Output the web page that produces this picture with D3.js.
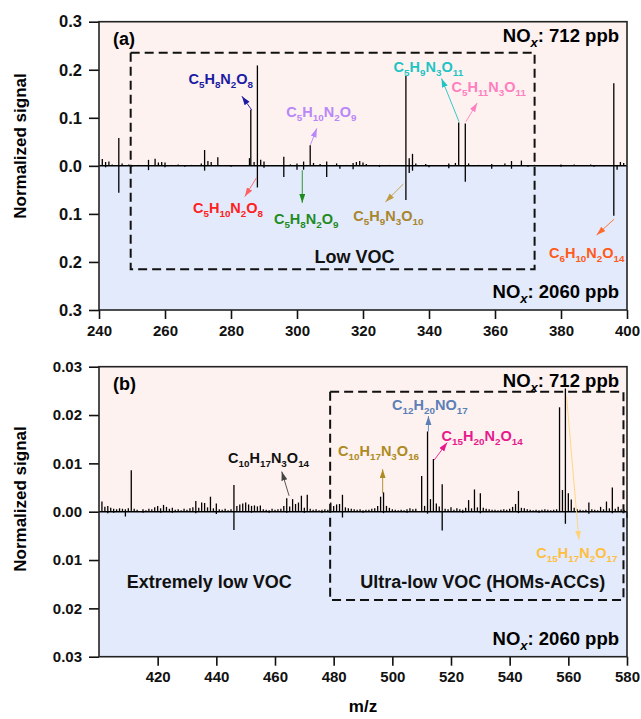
<!DOCTYPE html>
<html>
<head>
<meta charset="utf-8">
<script src="https://cdn.jsdelivr.net/npm/d3@7"></script>
<style>
  body { margin: 0; background: #fff; }
  text { font-family: "Liberation Sans", Arial, sans-serif; font-weight: bold; }
</style>
</head>
<body>
<svg id="vis" width="641" height="719"></svg>
<script>
// ---- data: [m/z, normalized signal] ----
var peaksA712 = [[241,.014],[242,.008],[243,.009],[244,.003],[246,.058],[247,.005],[249,.003],[252,.002],
  [255,.0125],[257,.0146],[258,.007],[259,.008],[260,.007],[262,.002],[264,.003],[268,.002],[271,.005],
  [272,.033],[273,.010],[274,.008],[276,.018],[280,.002],[283,.002],[285.6,.016],[286,.117],[287,.008],
  [288,.209],[289,.0125],[290,.009],[293,.002],[296,.019],[298,.003],[300,.005],[302,.009],[304,.043],
  [305,.006],[307,.004],[309,.009],[312,.005],[315,.002],[317,.006],[318,.008],[319,.010],[320,.007],
  [321,.004],[325,.002],[328,.002],[333,.187],[334,.016],[335,.025],[336,.005],[339,.004],[343,.002],
  [346,.005],[348,.006],[349,.090],[351,.088],[352,.005],[355,.002],[359,.004],[363,.005],[365,.010],
  [368,.011],[372,.002],[376,.002],[380,.003],[384,.003],[389,.003],[393,.002],[396,.172],[398,.008],[399,.006]];
var peaksA2060 = [[242,.003],[246,.056],[250,.002],[255,.009],[260,.003],[266,.002],[272,.010],[280,.002],
  [288,.045],[290,.004],[296,.023],[300,.008],[302,.008],[309,.023],[313,.006],[317,.007],[325,.002],
  [333,.071],[334,.015],[335,.010],[340,.003],[346,.005],[351,.033],[359,.006],[365,.006],[370,.002],
  [380,.002],[390,.002],[396,.104],[397,.008]];

var peaksB712 = [[401,.0021],[402,.0010],[403,.0012],[404,.0008],[405,.0006],[406,.0005],[407,.0007],[408,.0006],
  [409,.0005],[410,.0007],[411,.0086],[412,.0006],[413,.0004],[415,.0005],[416,.0003],[417,.0006],[418,.0005],
  [419,.0009],[420,.0012],[421,.0007],[422,.0014],[423,.0010],[424,.0006],[425,.0008],[426,.0004],[427,.0005],
  [428,.0003],[429,.0006],[430,.0004],[431,.0007],[432,.0009],[433,.0022],[434,.0008],[435,.0019],[436,.0018],
  [437,.0009],[438,.0031],[439,.0007],[440,.0017],[441,.0005],[442,.0004],[443,.0006],[444,.0003],[445,.0005],
  [446,.0055],[447,.0012],[448,.0015],[449,.0017],[450,.0019],[451,.0015],[452,.0012],[453,.0013],[454,.0011],
  [455,.0013],[456,.0005],[457,.0004],[458,.0003],[459,.0006],[460,.0004],[461,.0005],[462,.0006],[463,.0012],
  [464,.0028],[465,.0011],[466,.0026],[467,.0016],[468,.0019],[469,.0033],[470,.0008],[471,.0035],[472,.0006],
  [473,.0004],[474,.0005],[475,.0003],[476,.0004],[477,.0005],[478,.0004],[479,.0019],[480,.0012],[481,.0015],
  [482,.0016],[483,.0035],[484,.0009],[485,.0007],[486,.0006],[487,.0005],[488,.0004],[489,.0005],[490,.0003],
  [491,.0004],[492,.0004],[493,.0006],[494,.0007],[495,.0012],[496,.0031],[497,.0040],[498,.0012],[499,.0008],
  [500,.0005],[501,.0004],[502,.0003],[503,.0004],[504,.0003],[505,.0005],[506,.0007],[507,.0005],[508,.0006],
  [510,.0074],[511,.0012],[512,.0166],[513,.0026],[514,.0109],[515,.0017],[516,.0011],[517,.0057],[518,.0006],
  [519,.0005],[520,.0009],[521,.0004],[522,.0007],[523,.0005],[524,.0004],[525,.0008],[526,.0024],[527,.0007],
  [528,.0046],[529,.0009],[530,.0038],[531,.0008],[532,.0006],[533,.0005],[534,.0004],[535,.0004],[536,.0003],
  [537,.0004],[538,.0005],[539,.0004],[540,.0006],[541,.0010],[542,.0016],[543,.0043],[544,.0008],[545,.0007],
  [546,.0005],[547,.0004],[548,.0003],[549,.0004],[550,.0003],[551,.0004],[552,.0005],[553,.0004],[554,.0003],
  [555,.0004],[556,.0005],[557,.0216],[558,.0045],[559,.0255],[560,.0038],[561,.0025],[562,.0008],[563,.0005],
  [564,.0004],[565,.0003],[566,.0004],[567,.0019],[568,.0005],[569,.0004],[570,.0003],[571,.0010],[572,.0005],
  [573,.0021],[574,.0007],[575,.0050],[576,.0006],[577,.0010],[578,.0005],[579,.0004]];
var peaksB2060 = [[403,.0003],[405,.0002],[409,.0010],[415,.0002],[421,.0002],[425,.0002],[433,.0003],[440,.0005],
  [446,.0038],[452,.0002],[458,.0002],[464,.0002],[470,.0002],[476,.0002],[483,.0012],[490,.0002],[497,.0003],
  [505,.0002],[512,.0004],[517,.0039],[524,.0002],[530,.0003],[543,.0003],[550,.0002],[559,.0025],[567,.0004],
  [575,.0003],[580,.0013]];

var xTicksA = [240,260,280,300,320,340,360,380,400];
var xTicksB = [420,440,460,480,500,520,540,560,580];
var yTicksA = [-0.3,-0.2,-0.1,0,0.1,0.2,0.3];
var yTicksB = [-0.03,-0.02,-0.01,0,0.01,0.02,0.03];

// annotations: formula, colour, arrow from [mz,v] to [mz,v], label centre [mz,v]
var labelsA = [
  {f:"C5H8N2O8",   c:"#1c1ca3", a:"#1c1ca3", from:[286.3,.116], to:[283.3,.145], at:[276.9,.170]},
  {f:"C5H10N2O9",  c:"#b987f7", a:"#b987f7", from:[304.1,.044], to:[306,.078],   at:[307.4,.101]},
  {f:"C5H9N3O11",  c:"#1fc4c4", a:"#1fc4c4", from:[349.1,.092], to:[343.8,.182], at:[339.8,.196]},
  {f:"C5H11N3O11", c:"#ff7fbf", a:"#ff7fbf", from:[351.2,.092], to:[354.6,.131], at:[358.1,.154]},
  {f:"C5H10N2O8",  c:"#ff2020", a:"#ff6060", from:[287.8,-.024], to:[284.2,-.064], at:[279.1,-.099]},
  {f:"C5H8N2O9",   c:"#1e8c1e", a:"#1e8c1e", from:[301.6,-.009], to:[301.6,-.077], at:[302.8,-.121]},
  {f:"C5H9N3O10",  c:"#a8862c", a:"#c09a40", from:[332.2,-.038], to:[326.8,-.075], at:[327.7,-.114]},
  {f:"C6H10N2O14", c:"#ff5a1a", a:"#ff6a2a", from:[396.1,-.111], to:[390.8,-.144], at:[387.8,-.192]}
];
var labelsB = [
  {f:"C10H17N3O14", c:"#111111", a:"#444444", from:[464.8,.0033], to:[462.3,.0083], at:[457.8,.0101]},
  {f:"C10H17N3O16", c:"#ad8a22", a:"#ad8a22", from:[496.7,.0038], to:[496.7,.0088], at:[495.3,.0115]},
  {f:"C12H20NO17",  c:"#5b7fb6", a:"#5b7fb6", from:[512.3,.0166], to:[512.3,.0198], at:[512.8,.0210]},
  {f:"C15H20N2O14", c:"#e8198c", a:"#e8198c", from:[514.3,.0107], to:[518.7,.0143], at:[530.6,.0147]},
  {f:"C15H17N2O17", c:"#ffbf40", a:"#ffd27a", from:[559.4,.0238], to:[563.6,-.0058], at:[562.9,-.0096]}
];

var svg = d3.select("#vis");
var defs = svg.append("defs");
var left = 99, right = 627;

function marker(col) {
  var id = "m" + col.slice(1);
  if (defs.select("#" + id).empty()) {
    defs.append("marker").attr("id", id)
      .attr("markerUnits", "userSpaceOnUse")
      .attr("markerWidth", 10).attr("markerHeight", 8)
      .attr("refX", 9).attr("refY", 3).attr("orient", "auto")
      .append("path").attr("d", "M0,0L9,3L0,6Z").attr("fill", col);
  }
  return "url(#" + id + ")";
}

function addFormula(t, f, fs) {
  var shift = 0;
  f.replace(/([A-Z][a-z]?)(\d*)/g, function(m, el, n) {
    t.append("tspan").attr("dy", -shift).text(el);
    shift = 0;
    if (n) {
      t.append("tspan").attr("font-size", fs * 0.68).attr("dy", fs * 0.28).text(n);
      shift = fs * 0.28;
    }
  });
}

function addNox(g, x, y, val) {
  var t = g.append("text").attr("x", x).attr("y", y)
    .attr("text-anchor", "end").attr("font-size", 18.5).text("NO");
  t.append("tspan").attr("font-style", "italic").attr("font-size", 13).attr("dy", 5).text("x");
  t.append("tspan").attr("dy", -5).text(": " + val + " ppb");
}

function panel(o) {
  var x = d3.scaleLinear().domain(o.xdom).range([left, right]);
  var y = d3.scaleLinear().domain([-o.ymax, o.ymax]).range([o.bottom, o.top]);
  var g = svg.append("g");

  g.append("rect").attr("x", left).attr("y", o.top).attr("width", right - left)
    .attr("height", y(0) - o.top).attr("fill", "#fdf2f0");
  g.append("rect").attr("x", left).attr("y", y(0)).attr("width", right - left)
    .attr("height", o.bottom - y(0)).attr("fill", "#e3eafb");

  // spectra
  g.append("g").selectAll("line").data(o.hi).enter().append("line")
    .attr("x1", function(d) { return x(d[0]); }).attr("x2", function(d) { return x(d[0]); })
    .attr("y1", y(0)).attr("y2", function(d) { return y(d[1]); })
    .attr("stroke", "#000").attr("stroke-width", 1.3);
  g.append("g").selectAll("line").data(o.lo).enter().append("line")
    .attr("x1", function(d) { return x(d[0]); }).attr("x2", function(d) { return x(d[0]); })
    .attr("y1", y(0)).attr("y2", function(d) { return y(-d[1]); })
    .attr("stroke", "#000").attr("stroke-width", 1.3);
  g.append("line").attr("x1", left).attr("x2", right).attr("y1", y(0)).attr("y2", y(0))
    .attr("stroke", "#000").attr("stroke-width", 1.5);

  // dashed region box
  g.append("rect").attr("x", x(o.box[0])).attr("y", y(o.box[2]))
    .attr("width", x(o.box[1]) - x(o.box[0])).attr("height", y(o.box[3]) - y(o.box[2]))
    .attr("fill", "none").attr("stroke", "#111").attr("stroke-width", 2)
    .attr("stroke-dasharray", "9,5");

  // axes
  var ya = g.append("g").attr("transform", "translate(" + left + ",0)")
    .call(d3.axisLeft(y).tickValues(o.yticks).tickSize(10).tickPadding(7).tickSizeOuter(0)
      .tickFormat(function(d) { return d3.format(o.yfmt)(Math.abs(d)); }));
  var xa = g.append("g").attr("transform", "translate(0," + o.bottom + ")")
    .call(d3.axisBottom(x).tickValues(o.xticks).tickSize(9).tickPadding(6).tickSizeOuter(0));
  [ya, xa].forEach(function(a) {
    a.selectAll("text").attr("font-size", 15).attr("fill", "#111");
    a.selectAll("line").attr("stroke", "#111").attr("stroke-width", 1.6);
    a.select(".domain").remove();
  });
  ya.selectAll("text").attr("font-size", o.yfs);
  g.append("rect").attr("x", left).attr("y", o.top).attr("width", right - left)
    .attr("height", o.bottom - o.top).attr("fill", "none").attr("stroke", "#222").attr("stroke-width", 1.6);

  g.append("text").attr("transform", "translate(26," + o.titleY + ") rotate(-90)")
    .attr("text-anchor", "middle").attr("font-size", 17).text("Normalized signal");

  g.append("text").attr("x", 113).attr("y", o.top + 23.5).attr("font-size", 18).text(o.tag);
  addNox(g, 619, o.top + 20, "712");
  addNox(g, 619, o.bottom - 12, "2060");

  o.regions.forEach(function(r) {
    g.append("text").attr("x", x(r.at[0])).attr("y", y(r.at[1]))
      .attr("text-anchor", "middle").attr("font-size", 18).attr("fill", "#111").text(r.t);
  });

  o.labels.forEach(function(l) {
    g.append("line").attr("x1", x(l.from[0])).attr("y1", y(l.from[1]))
      .attr("x2", x(l.to[0])).attr("y2", y(l.to[1]))
      .attr("stroke", l.a).attr("stroke-width", 0.9).attr("marker-end", marker(l.a));
    var t = g.append("text").attr("x", x(l.at[0])).attr("y", y(l.at[1]))
      .attr("text-anchor", "middle").attr("font-size", 14.5).attr("fill", l.c);
    addFormula(t, l.f, 14.5);
  });
}

panel({xdom: [240, 400], ymax: 0.3, top: 21.7, bottom: 310, hi: peaksA712, lo: peaksA2060,
  xticks: xTicksA, yticks: yTicksA, yfmt: ".1f", yfs: 16.5, tag: "(a)", titleY: 146,
  box: [249.6, 372, 0.2355, -0.2153], labels: labelsA,
  regions: [{t: "Low VOC", at: [317.4, -0.203]}]});

panel({xdom: [400, 580], ymax: 0.03, top: 366.7, bottom: 656.7, hi: peaksB712, lo: peaksB2060,
  xticks: xTicksB, yticks: yTicksB, yfmt: ".2f", yfs: 15, tag: "(b)", titleY: 499,
  box: [478.8, 578.8, 0.02483, -0.01825], labels: labelsB,
  regions: [{t: "Extremely low VOC", at: [437.6, -0.0158]},
            {t: "Ultra-low VOC (HOMs-ACCs)", at: [530.8, -0.0158]}]});

svg.append("text").attr("x", 363).attr("y", 712).attr("text-anchor", "middle")
  .attr("font-size", 17).text("m/z");
</script>
</body>
</html>
